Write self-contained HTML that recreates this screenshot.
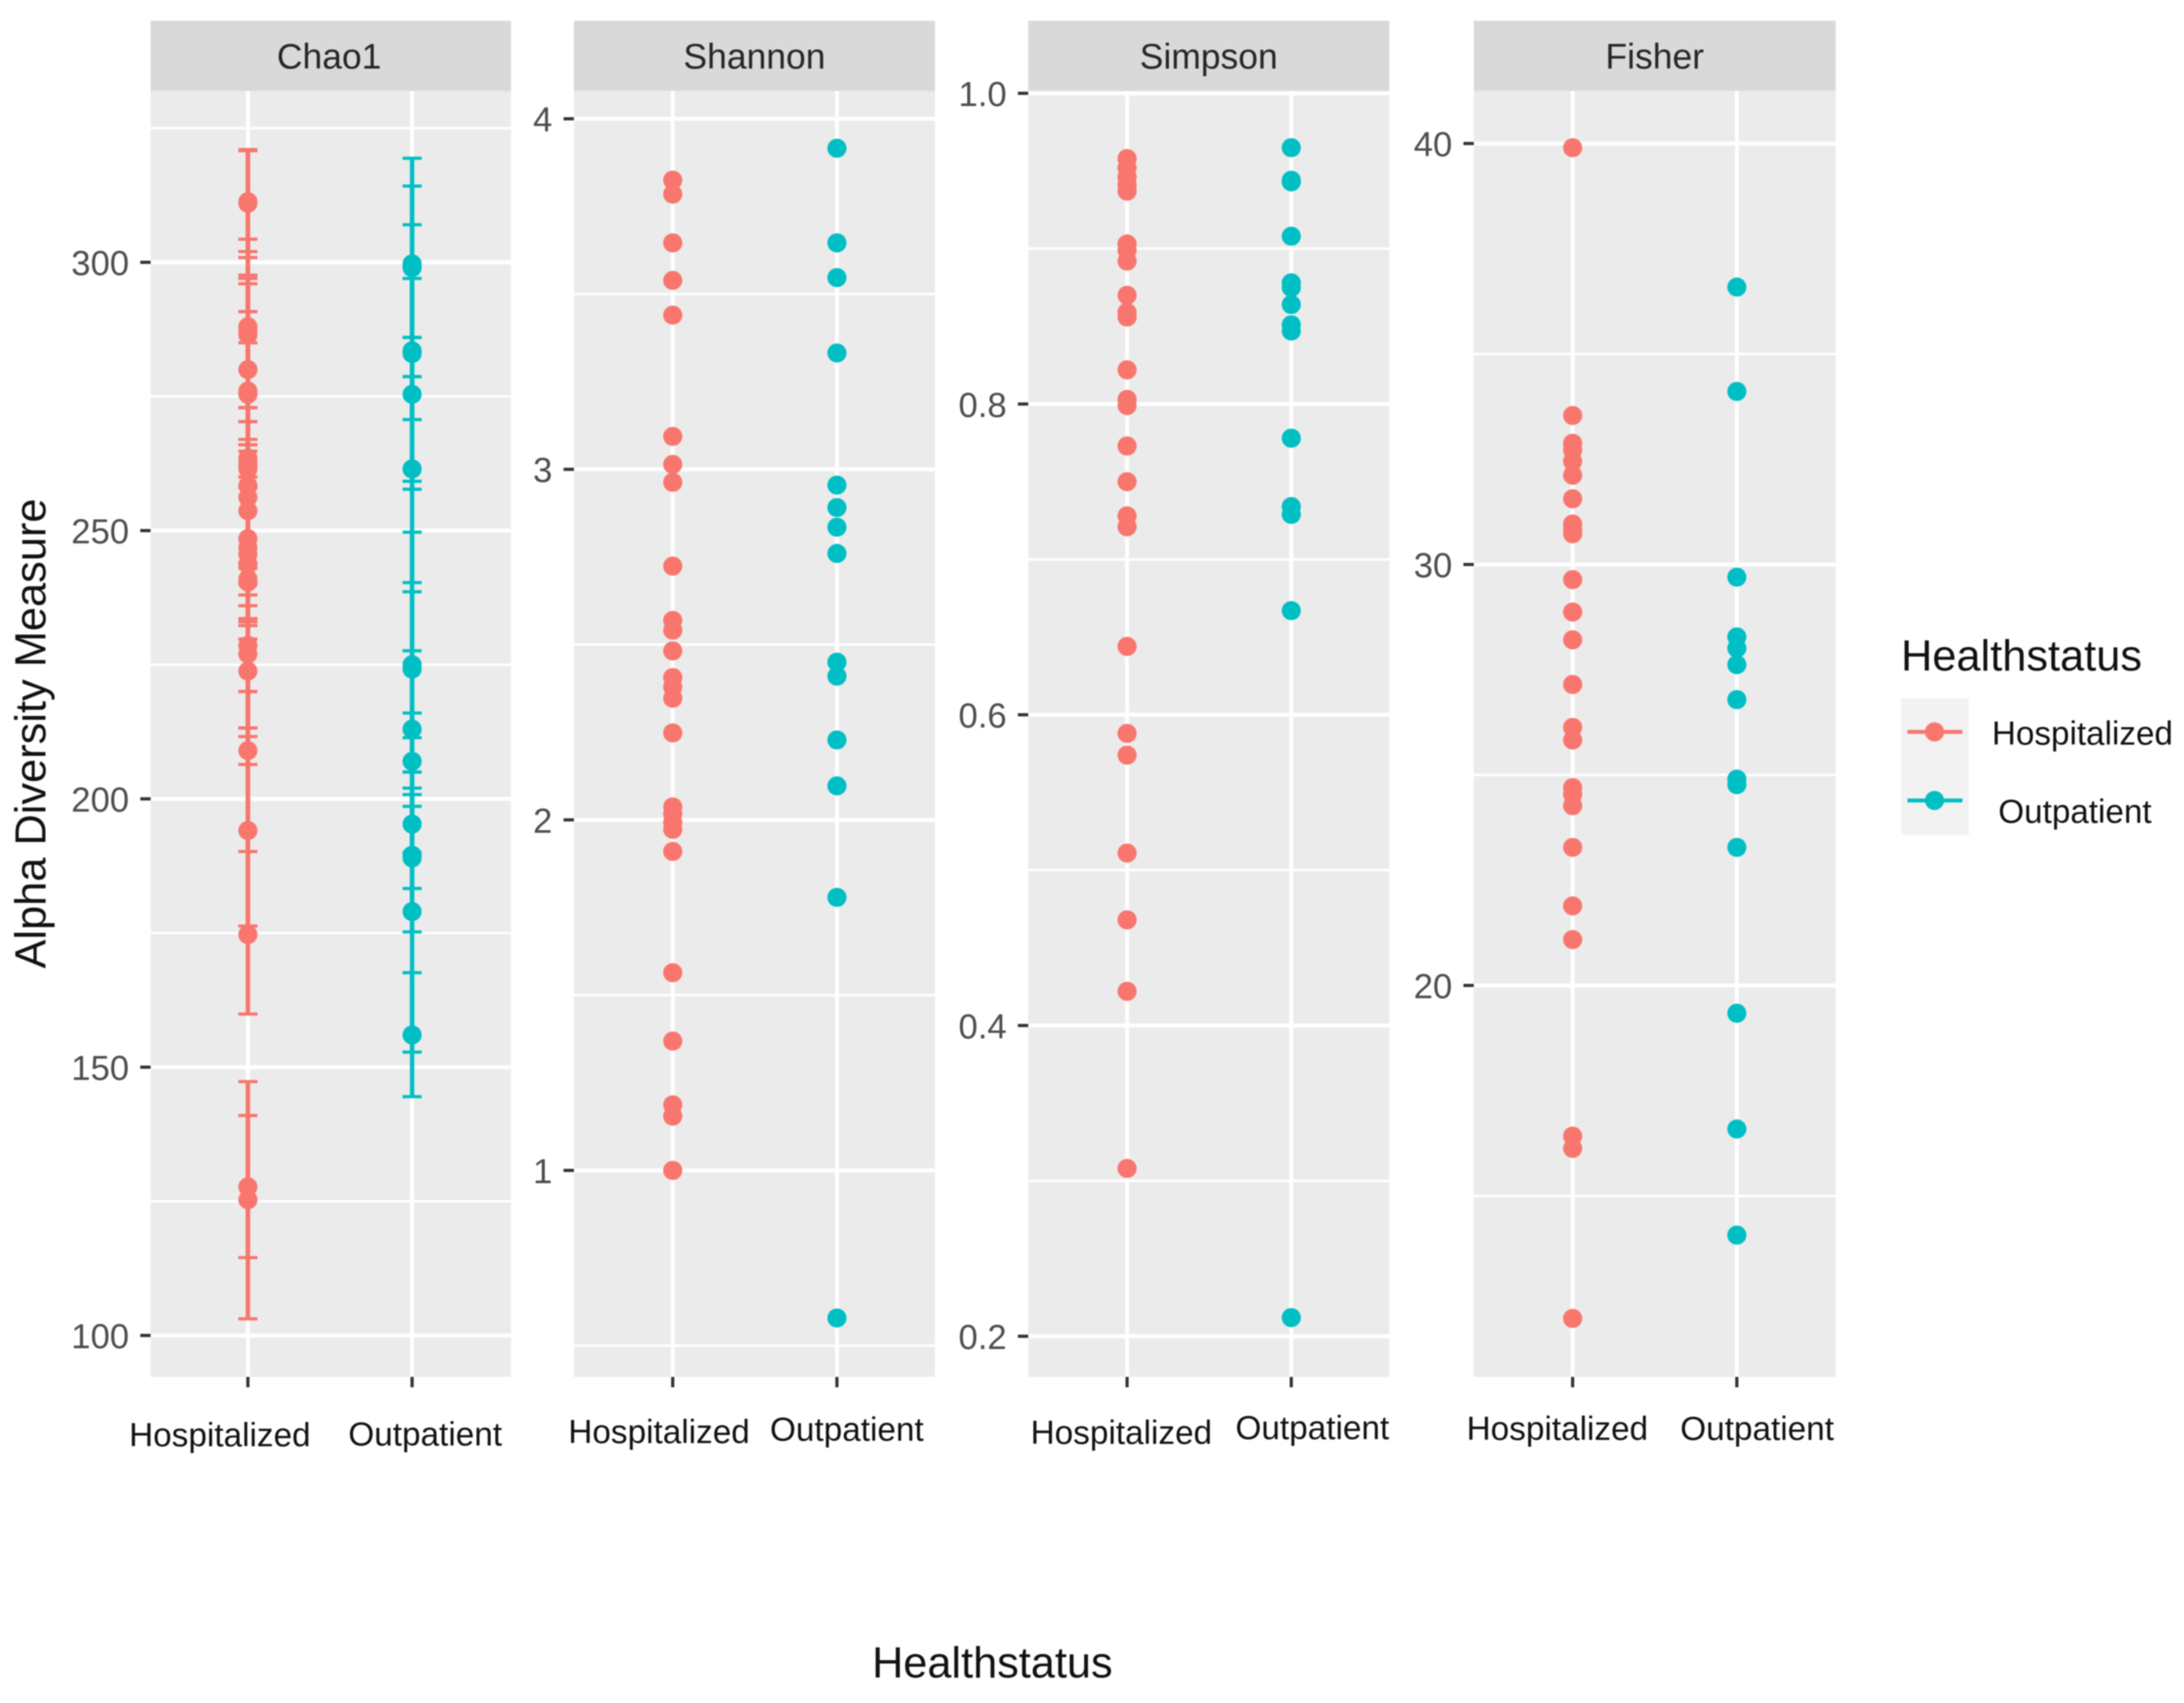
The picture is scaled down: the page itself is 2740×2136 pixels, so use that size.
<!DOCTYPE html>
<html lang="en">
<head>
<meta charset="utf-8">
<title>Alpha Diversity Measure by Healthstatus</title>
<style>
html,body{margin:0;padding:0;background:#fff;}
svg{display:block;font-family:"Liberation Sans",sans-serif;filter:blur(0.7px);}
</style>
</head>
<body>
<svg id="chart" xmlns="http://www.w3.org/2000/svg" width="2740" height="2136" viewBox="0 0 2740 2136">
  <rect width="2740" height="2136" fill="#ffffff"/>
  <g id="panels"></g>
  <text transform="translate(57,920) rotate(-90)" text-anchor="middle" font-size="54.4" fill="#111">Alpha Diversity Measure</text>
  <text x="1245" y="2104" text-anchor="middle" font-size="54.3" fill="#111">Healthstatus</text>
  <g>
    <text x="2385" y="841" font-size="54.4" fill="#111">Healthstatus</text>
    <rect x="2385" y="876" width="85" height="171" fill="#f2f2f2"/>
    <line x1="2393" x2="2462" y1="918" y2="918" stroke="#F8766D" stroke-width="5"/>
    <circle cx="2427" cy="918" r="12" fill="#F8766D"/>
    <line x1="2393" x2="2462" y1="1004" y2="1004" stroke="#00BFC4" stroke-width="5"/>
    <circle cx="2427" cy="1004" r="12" fill="#00BFC4"/>
    <text x="2499" y="934" font-size="41.7" fill="#111">Hospitalized</text>
    <text x="2507" y="1032" font-size="41.7" fill="#111">Outpatient</text>
  </g>
</svg>
<script>
// ---------- data ----------
const categories = ["Hospitalized", "Outpatient"];

const chaoHospitalized = [311.3,311,288,287.8,286.5,280,276,275.4,263.5,262.5,261.5,258.4,256.2,253.7,248.5,246.8,245.6,243.7,241,240.4,228.6,227,223.8,209,194.1,174.7,127.7,125.3];
const chaoHospitalizedLow = [300.9,302,272.9,272.9,270.3,266,258,258,240,240,240,238,236,233,229.8,233.6,232.3,228.5,220,220,213.2,211.6,206.4,190.2,176.3,159.9,114.5,103.1];
const chaoHospitalizedHigh = [320.8,321,297,297.6,304.3,300.9,296,290.8,287,285,290.8,272.9,270.3,272.9,267,260,260,266,262,264.8,244,243,241,229.8,213.2,190.2,141,147.3];

const chaoOutpatient = [299.7,299,283.5,283,275.4,261.5,225,224.2,213,207,195.3,189.5,189,179,156];
const chaoOutpatientLow = [286,278.7,270.7,259.2,257.7,240.3,205,211.4,205,190,190,183.3,175.2,152.8,144.5];
const chaoOutpatientHigh = [314.2,319.4,297,307,286,278.7,249.7,238.6,216,227.6,200.8,198.6,202,205,167.6];

const shannonHospitalized = [3.825,3.785,3.646,3.539,3.44,3.094,3.014,2.963,2.724,2.569,2.541,2.482,2.406,2.379,2.347,2.248,2.037,2.017,1.993,1.973,1.91,1.564,1.369,1.187,1.155,1.0];
const shannonOutpatient = [3.916,3.646,3.547,3.332,2.955,2.891,2.835,2.76,2.45,2.41,2.228,2.097,1.779,0.579];

const simpsonHospitalized = [.958,.952,.946,.941,.937,.903,.899,.892,.870,.859,.856,.822,.803,.799,.773,.750,.728,.721,.644,.588,.574,.511,.468,.422,.308];
const simpsonOutpatient = [.965,.944,.943,.908,.878,.875,.864,.851,.847,.778,.734,.729,.667,.212];

const fisherHospitalized = [39.9,33.54,32.88,32.72,32.45,32.12,31.56,30.96,30.83,30.73,29.64,28.87,28.21,27.15,26.13,25.83,24.70,24.54,24.27,23.28,21.89,21.09,16.42,16.13,12.09];
const fisherOutpatient = [36.59,34.11,29.70,28.28,28.01,27.62,26.79,24.90,24.77,23.28,19.34,16.59,14.07];

const chaoTicks = [100,150,200,250,300];
const chaoMinorTicks = [125,175,225,275,325];
const shannonTicks = [1,2,3,4];
const shannonMinorTicks = [0.5,1.5,2.5,3.5];
const simpsonTicks = [0.2,0.4,0.6,0.8,1.0];
const simpsonMinorTicks = [0.3,0.5,0.7,0.9];
const fisherTicks = [20,30,40];
const fisherMinorTicks = [15,25,35];

// ---------- layout ----------
const COLORS = ["#F8766D", "#00BFC4"];
const panels = [
  {title:"Chao1", key:"chao", x0:189, x1:641, cats:[311,517], anchorV:[300,100], anchorY:[329,1675], ticks:chaoTicks, minor:chaoMinorTicks, fmt:v=>String(v), titleDx:-2,
   series:[chaoHospitalized,chaoOutpatient], err:[[chaoHospitalizedLow,chaoHospitalizedHigh],[chaoOutpatientLow,chaoOutpatientHigh]],
   labels:[[162,1814],[437,1813]]},
  {title:"Shannon", key:"shannon", x0:720, x1:1173, cats:[844,1050], anchorV:[4,1], anchorY:[149,1468], ticks:shannonTicks, minor:shannonMinorTicks, fmt:v=>String(v), titleDx:0,
   series:[shannonHospitalized,shannonOutpatient], err:null, labels:[[713,1810],[966,1807]]},
  {title:"Simpson", key:"simpson", x0:1290, x1:1743, cats:[1414,1620], anchorV:[1,0.2], anchorY:[117,1676], ticks:simpsonTicks, minor:simpsonMinorTicks, fmt:v=>v.toFixed(1), titleDx:0,
   series:[simpsonHospitalized,simpsonOutpatient], err:null, labels:[[1293,1811],[1550,1805]]},
  {title:"Fisher", key:"fisher", x0:1849, x1:2303, cats:[1973,2179], anchorV:[40,20], anchorY:[180,1236], ticks:fisherTicks, minor:fisherMinorTicks, fmt:v=>String(v), titleDx:0,
   series:[fisherHospitalized,fisherOutpatient], err:null, labels:[[1840,1806],[2108,1806]]}
];
const STRIP_TOP = 26, PANEL_TOP = 114, PANEL_BOTTOM = 1727;

const NS = "http://www.w3.org/2000/svg";
const root = document.getElementById("panels");
function mk(parent, tag, attrs){
  const n = document.createElementNS(NS, tag);
  for (const k in attrs) n.setAttribute(k, attrs[k]);
  parent.appendChild(n);
  return n;
}
function yScale(p){
  const m = (p.anchorY[1]-p.anchorY[0])/(p.anchorV[1]-p.anchorV[0]);
  return v => p.anchorY[0] + (v-p.anchorV[0])*m;
}

panels.forEach(p => {
  const y = yScale(p);
  const g = mk(root, "g", {});
  
  

  let el = mk(g, "rect", {x:p.x0, y:STRIP_TOP, width:p.x1-p.x0, height:PANEL_TOP-STRIP_TOP, fill:"#d9d9d9"});
  
  
  el = mk(g, "text", {x:(p.x0+p.x1)/2+p.titleDx, y:86, "text-anchor":"middle", "font-size":44.5, fill:"#262626"});
  el.textContent = p.title;
  
  
  el = mk(g, "rect", {x:p.x0, y:PANEL_TOP, width:p.x1-p.x0, height:PANEL_BOTTOM-PANEL_TOP, fill:"#ebebeb"});
  
  

  p.minor.forEach(v => {
    const line = mk(g, "line", {x1:p.x0, x2:p.x1, y1:y(v), y2:y(v), stroke:"#fff", "stroke-width":3});
    
    
  });
  p.ticks.forEach(v => {
    const line = mk(g, "line", {x1:p.x0, x2:p.x1, y1:y(v), y2:y(v), stroke:"#fff", "stroke-width":5});
    
    
    const tick = mk(g, "line", {x1:p.x0-13, x2:p.x0, y1:y(v), y2:y(v), stroke:"#333", "stroke-width":4});
    
    
    const label = mk(g, "text", {x:p.x0-27, y:y(v)+16, "text-anchor":"end", "font-size":43.5, fill:"#4d4d4d"});
    label.textContent = p.fmt(v);
    
    
  });
  p.cats.forEach((cx, i) => {
    const line = mk(g, "line", {x1:cx, x2:cx, y1:PANEL_TOP, y2:PANEL_BOTTOM, stroke:"#fff", "stroke-width":5});
    
    
    const tick = mk(g, "line", {x1:cx, x2:cx, y1:PANEL_BOTTOM, y2:PANEL_BOTTOM+13, stroke:"#333", "stroke-width":4});
    
    
    const label = mk(g, "text", {x:p.labels[i][0], y:p.labels[i][1], "font-size":41.8, fill:"#111"});
    label.textContent = categories[i];
    
    
  });

  p.series.forEach((vals, s) => {
    const cx = p.cats[s];
    if (p.err) {
      const lows = p.err[s][0], highs = p.err[s][1];
      lows.forEach((lo, i) => {
        const hi = highs[i];
        const bar = mk(g, "line", {x1:cx, x2:cx, y1:y(hi), y2:y(lo), stroke:COLORS[s], "stroke-width":5.5});
        
        
        [lo, hi].forEach(c => {
          const cap = mk(g, "line", {x1:cx-12, x2:cx+12, y1:y(c), y2:y(c), stroke:COLORS[s], "stroke-width":4});
          
          
        });
      });
    }
    vals.forEach(v => {
      const dot = mk(g, "circle", {cx:cx, cy:y(v), r:12, fill:COLORS[s]});
      
      
    });
  });
});
</script>
</body>
</html>
